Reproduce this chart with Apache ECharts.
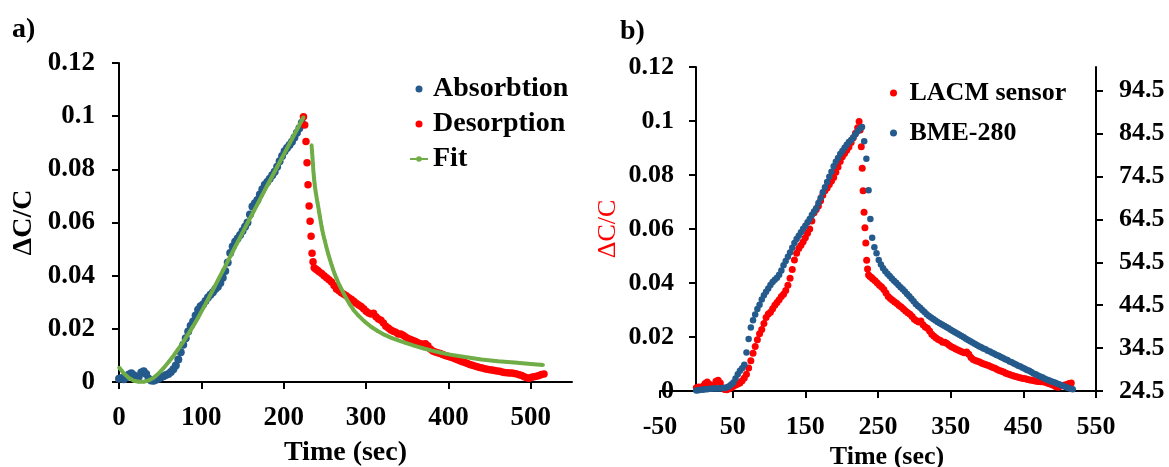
<!DOCTYPE html>
<html>
<head>
<meta charset="utf-8">
<script src="https://cdn.jsdelivr.net/npm/echarts@6/dist/echarts.min.js"></script>
<style>
html,body{margin:0;padding:0;background:#fff;}
#chart{width:1169px;height:467px;}
</style>
</head>
<body>
<div id="chart"></div>
<script>
// ---- tick labels ----
const xTicksA = [0, 100, 200, 300, 400, 500];
const rhTicks = [24.5, 34.5, 44.5, 54.5, 64.5, 74.5, 84.5, 94.5];

// ---- LACM sensor, absorption phase [time s, dC/C] ----
const absorbtion = [
[0,0.0012],[3,0.0015],[6,0.0010],[9,0.0018],[12,0.0028],[15,0.0033],[18,0.0025],[21,0.0015],[24,0.0020],[27,0.0036],
[30,0.0040],[33,0.0030],[36,0.0012],[39,0.0006],[42,0.0005],[45,0.0008],[48,0.0012],[51,0.0018],[54,0.0022],[57,0.0026],
[60,0.0030],[63,0.0038],[66,0.0048],[69,0.0062],[72,0.0085],[75,0.0112],[78,0.0140],[81,0.0165],[84,0.0190],[87,0.0212],
[90,0.0228],[93,0.0250],[96,0.0272],[99,0.0285],[102,0.0292],[105,0.0305],[108,0.0318],[111,0.0328],[114,0.0338],[117,0.0350],
[120,0.0358],[123,0.0372],[126,0.0392],[129,0.0418],[132,0.0450],[135,0.0485],[138,0.0510],[141,0.0528],[144,0.0540],[147,0.0553],
[150,0.0568],[153,0.0584],[156,0.0600],[159,0.0630],[162,0.0660],[165,0.0672],[168,0.0685],[171,0.0705],[174,0.0725],[177,0.0742],
[180,0.0752],[183,0.0765],[186,0.0778],[189,0.0791],[192,0.0810],[195,0.0830],[198,0.0850],[201,0.0868],[204,0.0880],[207,0.0892],
[210,0.0904],[213,0.0920],[216,0.0938],[219,0.0955],[222,0.0975]
];

// ---- LACM sensor, desorption phase [time s, dC/C] ----
const desorption = [
[224,0.0998],[225.5,0.0967],[227,0.0905],[228.3,0.0825],[229.5,0.0742],[230.8,0.0662],[232,0.0605],[233.2,0.0548],[234.4,0.0484],[235.6,0.0452],
[237,0.0430],[239,0.0424],[241,0.0420],[243,0.0415],[246,0.0408],[249,0.0400],[252,0.0392],[255,0.0385],[258,0.0376],[261,0.0363],
[264,0.0350],[267,0.0343],[270,0.0336],[273,0.0330],[276,0.0324],[279,0.0317],[282,0.0311],[285,0.0304],[288,0.0296],[291,0.0290],
[294,0.0284],[297,0.0276],[300,0.0266],[303,0.0260],[306,0.0256],[309,0.0259],[312,0.0245],[315,0.0237],[318,0.0232],[321,0.0222],
[324,0.0210],[327,0.0203],[330,0.0196],[333,0.0191],[336,0.0187],[339,0.0181],[342,0.0181],[345,0.0176],[348,0.0169],[351,0.0164],
[354,0.0160],[357,0.0156],[360,0.0152],[363,0.0148],[366,0.0144],[369,0.0142],[372,0.0144],[375,0.0136],[378,0.0124],[381,0.0117],
[384,0.0113],[387,0.0110],[390,0.0107],[393,0.0103],[396,0.0100],[399,0.0097],[402,0.0094],[405,0.0091],[408,0.0087],[411,0.0084],
[414,0.0080],[417,0.0076],[420,0.0073],[423,0.0070],[426,0.0066],[429,0.0063],[432,0.0060],[435,0.0057],[438,0.0055],[441,0.0053],
[444,0.0050],[447,0.0048],[450,0.0046],[453,0.0045],[456,0.0043],[459,0.0041],[462,0.0040],[465,0.0038],[468,0.0036],[471,0.0035],
[474,0.0034],[477,0.0034],[480,0.0032],[483,0.0030],[486,0.0027],[489,0.0024],[492,0.0020],[495,0.0016],[498,0.0014],[501,0.0018],
[504,0.0020],[507,0.0022],[510,0.0024],[513,0.0028],[516,0.0030]
];

// ---- Fit curves [time s, dC/C] ----
const fitRise = [
[0,0.0055],[6,0.0032],[12,0.0015],[18,0.0005],[24,0.0001],[30,0.0001],[36,0.0006],[42,0.0016],[48,0.0032],[54,0.0052],
[60,0.0074],[66,0.0098],[72,0.0124],[78,0.0151],[84,0.0180],[90,0.0210],[96,0.0242],[102,0.0276],[108,0.0311],[114,0.0346],
[120,0.0382],[126,0.0418],[132,0.0454],[138,0.0490],[144,0.0526],[150,0.0562],[156,0.0598],[162,0.0633],[168,0.0668],[174,0.0704],
[180,0.0739],[186,0.0774],[192,0.0809],[198,0.0844],[204,0.0879],[210,0.0914],[216,0.0949],[222,0.0984],[224,0.0996]
];
const fitDecay = [
[233.8,0.0892],[234.5,0.0862],[235,0.0840],[235.5,0.0818],[236,0.0795],[236.5,0.0777],[237,0.0760],[237.5,0.0746],[238,0.0732],[239,0.0711],
[240,0.0692],[241,0.0675],[242,0.0658],[243,0.0639],[244,0.0620],[245,0.0602],[246,0.0584],[247,0.0569],[248,0.0555],[249,0.0542],
[250,0.0530],[252,0.0505],[254,0.0482],[256,0.0461],[258,0.0442],[260,0.0423],[262,0.0405],[264,0.0390],[266,0.0375],[268,0.0362],
[270,0.0350],[275,0.0320],[280,0.0293],[285,0.0270],[290,0.0252],[298,0.0228],[306,0.0208],[314,0.0192],[322,0.0178],[330,0.0167],
[339,0.0157],[348,0.0147],[359,0.0136],[370,0.0126],[380,0.0118],[390,0.0111],[400,0.0104],[420,0.0094],[440,0.0085],[460,0.0078],
[480,0.0073],[500,0.0068],[515,0.0064]
];

// ---- BME-280 relative humidity [time s, %RH] ----
const bme = [
[0,24.6],[3,24.7],[6,24.8],[9,24.8],[12,24.9],[15,24.9],[18,25.0],[21,25.0],[24,25.1],[27,25.1],
[30,25.1],[33,25.1],[36,25.2],[39,25.2],[42,25.4],[45,25.6],[48,26.0],[51,26.5],[54,27.4],[57,28.4],
[60,29.2],[63,29.8],[66,30.6],[69,33.5],[72,36.6],[75,39.3],[78,41.0],[81,42.3],[84,43.6],[87,44.6],
[90,45.8],[93,46.8],[96,47.6],[99,48.4],[102,49.2],[105,49.9],[108,50.4],[111,50.9],[114,51.6],[117,52.6],
[120,53.8],[123,54.8],[126,55.8],[129,56.8],[132,57.9],[135,59.0],[138,59.9],[141,60.7],[144,61.5],[147,62.3],
[150,63.0],[153,63.8],[156,64.6],[159,65.5],[162,66.3],[165,67.1],[168,68.3],[171,69.5],[174,70.8],[177,72.0],
[180,73.2],[183,74.4],[186,75.6],[189,76.9],[192,77.9],[195,78.8],[198,79.7],[201,80.4],[204,81.2],[207,81.9],
[210,82.5],[213,83.0],[216,83.6],[219,84.3],[222,85.0],[225,85.6],[228,86.0],[231,82.7],[234,78.6],[237,71.3],
[239.5,64.6],[242,60.2],[245,58.0],[248,56.6],[251,55.0],[254,54.0],[257,53.1],[260,52.4],[263,51.8],[266,51.3],
[269,50.7],[272,50.2],[275,49.7],[278,49.2],[281,48.7],[284,48.2],[287,47.7],[290,47.1],[293,46.6],[296,46.0],
[299,45.4],[302,44.8],[305,44.3],[308,43.9],[311,43.4],[314,42.9],[317,42.4],[320,42.0],[323,41.6],[326,41.3],
[329,40.9],[332,40.6],[335,40.3],[338,40.0],[341,39.7],[344,39.4],[347,39.1],[350,38.8],[353,38.5],[356,38.2],
[359,37.9],[362,37.6],[365,37.3],[368,37.0],[371,36.7],[374,36.4],[377,36.1],[380,35.8],[383,35.5],[386,35.2],
[389,34.9],[392,34.7],[395,34.4],[398,34.2],[401,33.9],[404,33.7],[407,33.4],[410,33.2],[413,32.9],[416,32.7],
[419,32.4],[422,32.2],[425,31.9],[428,31.7],[431,31.4],[434,31.2],[437,30.9],[440,30.7],[443,30.4],[446,30.2],
[449,29.9],[452,29.7],[455,29.4],[458,29.2],[461,28.9],[464,28.6],[467,28.4],[470,28.1],[473,27.9],[476,27.7],
[479,27.4],[482,27.2],[485,27.0],[488,26.8],[491,26.6],[494,26.4],[497,26.2],[500,26.0],[503,25.8],[506,25.6],
[509,25.4],[512,25.2],[515,25.0],[518,24.9]
];

const FONT = 'Liberation Serif';
const BLUE = '#255A8C';
const RED = '#FF0000';
const GREEN = '#70AD47';
const axisLineStyle = { color: '#000', width: 2 };

const chart = echarts.init(document.getElementById('chart'), null, { renderer: 'canvas' });

const option = {
  animation: false,
  backgroundColor: '#fff',
  textStyle: { fontFamily: FONT },
  graphic: [
    { type: 'text', left: 12, top: 16, style: { text: 'a)', font: 'bold 28px "Liberation Serif"', fill: '#000' } },
    { type: 'text', left: 620, top: 18, style: { text: 'b)', font: 'bold 28px "Liberation Serif"', fill: '#000' } }
  ],
  legend: [
    {
      orient: 'vertical', left: 409, top: 75, padding: 0, itemGap: 7,
      itemWidth: 18, itemHeight: 7,
      textStyle: { fontFamily: FONT, fontWeight: 'bold', fontSize: 28, lineHeight: 28, color: '#000' },
      data: [
        { name: 'Absorbtion', icon: 'circle' },
        { name: 'Desorption', icon: 'circle' },
        { name: 'Fit' }
      ]
    },
    {
      orient: 'vertical', left: 890, top: 80, padding: 0, itemGap: 14,
      itemWidth: 22, itemHeight: 7,
      textStyle: { fontFamily: FONT, fontWeight: 'bold', fontSize: 26, lineHeight: 26, color: '#000' },
      data: [
        { name: 'LACM sensor', icon: 'circle' },
        { name: 'BME-280', icon: 'circle' }
      ]
    }
  ],
  grid: [
    { left: 119, top: 63, width: 453, height: 319, containLabel: false, outerBoundsMode: 'none' },
    { left: 660, top: 67, width: 436, height: 324, containLabel: false, outerBoundsMode: 'none' }
  ],
  xAxis: [
    {
      gridIndex: 0, type: 'value', min: 0, max: 550, interval: 100,
      name: 'Time (sec)', nameLocation: 'middle', nameGap: 57, nameMoveOverlap: false,
      nameTextStyle: { fontFamily: FONT, fontWeight: 'bold', fontSize: 28, color: '#000' },
      axisLine: { onZero: false, lineStyle: axisLineStyle },
      axisTick: { show: true, length: 7, lineStyle: axisLineStyle, customValues: xTicksA },
      axisLabel: { margin: 23, fontFamily: FONT, fontWeight: 'bold', fontSize: 27, color: '#000', customValues: xTicksA },
      splitLine: { show: false }
    },
    {
      gridIndex: 1, type: 'value', min: -50, max: 550, interval: 100,
      name: 'Time (sec)', nameLocation: 'middle', nameGap: 53, nameMoveOverlap: false,
      nameTextStyle: { fontFamily: FONT, fontWeight: 'bold', fontSize: 26, color: '#000', padding: [0, 0, 0, 18] },
      axisLine: { onZero: false, lineStyle: axisLineStyle },
      axisTick: { show: true, length: 7, lineStyle: axisLineStyle },
      axisLabel: { margin: 23, fontFamily: FONT, fontWeight: 'bold', fontSize: 26, color: '#000' },
      splitLine: { show: false }
    }
  ],
  yAxis: [
    {
      gridIndex: 0, type: 'value', min: 0, max: 0.12, interval: 0.02,
      name: 'ΔC/C', nameLocation: 'middle', nameGap: 81, nameMoveOverlap: false,
      nameTextStyle: { fontFamily: FONT, fontWeight: 'bold', fontSize: 28, color: '#000' },
      axisLine: { show: true, onZero: false, lineStyle: axisLineStyle },
      axisTick: { show: true, length: 7, lineStyle: axisLineStyle },
      axisLabel: { margin: 24, fontFamily: FONT, fontWeight: 'bold', fontSize: 27, color: '#000' },
      splitLine: { show: false }
    },
    {
      gridIndex: 1, type: 'value', min: 0, max: 0.12, interval: 0.02, offset: -36,
      name: 'ΔC/C', nameLocation: 'middle', nameGap: 75, nameMoveOverlap: false,
      nameTextStyle: { fontFamily: FONT, fontWeight: 'normal', fontSize: 26, color: RED },
      axisLine: { show: true, onZero: false, lineStyle: axisLineStyle },
      axisTick: { show: true, length: 7, lineStyle: axisLineStyle },
      axisLabel: { margin: 22, fontFamily: FONT, fontWeight: 'bold', fontSize: 26, color: '#000' },
      splitLine: { show: false }
    },
    {
      gridIndex: 1, type: 'value', position: 'right', min: 24.5, max: 100, interval: 10,
      axisLine: { show: true, onZero: false, lineStyle: axisLineStyle },
      axisTick: { show: true, length: 7, lineStyle: axisLineStyle, customValues: rhTicks },
      axisLabel: { margin: 23, fontFamily: FONT, fontWeight: 'bold', fontSize: 26, color: '#000', customValues: rhTicks },
      splitLine: { show: false }
    }
  ],
  series: [
    {
      name: 'Absorbtion', type: 'scatter', xAxisIndex: 0, yAxisIndex: 0,
      symbol: 'circle', symbolSize: 8, itemStyle: { color: BLUE, opacity: 1 }, data: absorbtion
    },
    {
      name: 'Desorption', type: 'scatter', xAxisIndex: 0, yAxisIndex: 0,
      symbol: 'circle', symbolSize: 7.5, itemStyle: { color: RED, opacity: 1 }, data: desorption
    },
    {
      name: 'Fit', type: 'line', xAxisIndex: 0, yAxisIndex: 0,
      symbol: 'circle', symbolSize: 3.5, showSymbol: true, smooth: false,
      lineStyle: { color: GREEN, width: 4 }, itemStyle: { color: GREEN }, data: fitRise
    },
    {
      name: 'Fit', type: 'line', xAxisIndex: 0, yAxisIndex: 0,
      symbol: 'circle', symbolSize: 3.5, showSymbol: true, smooth: false,
      lineStyle: { color: GREEN, width: 4 }, itemStyle: { color: GREEN }, data: fitDecay
    },
    {
      name: 'LACM sensor', type: 'scatter', xAxisIndex: 1, yAxisIndex: 1,
      symbol: 'circle', symbolSize: 7, itemStyle: { color: RED, opacity: 1 },
      data: absorbtion.concat(desorption)
    },
    {
      name: 'BME-280', type: 'scatter', xAxisIndex: 1, yAxisIndex: 2,
      symbol: 'circle', symbolSize: 6.5, itemStyle: { color: BLUE, opacity: 1 }, data: bme
    }
  ]
};
chart.setOption(option);
</script>
</body>
</html>
